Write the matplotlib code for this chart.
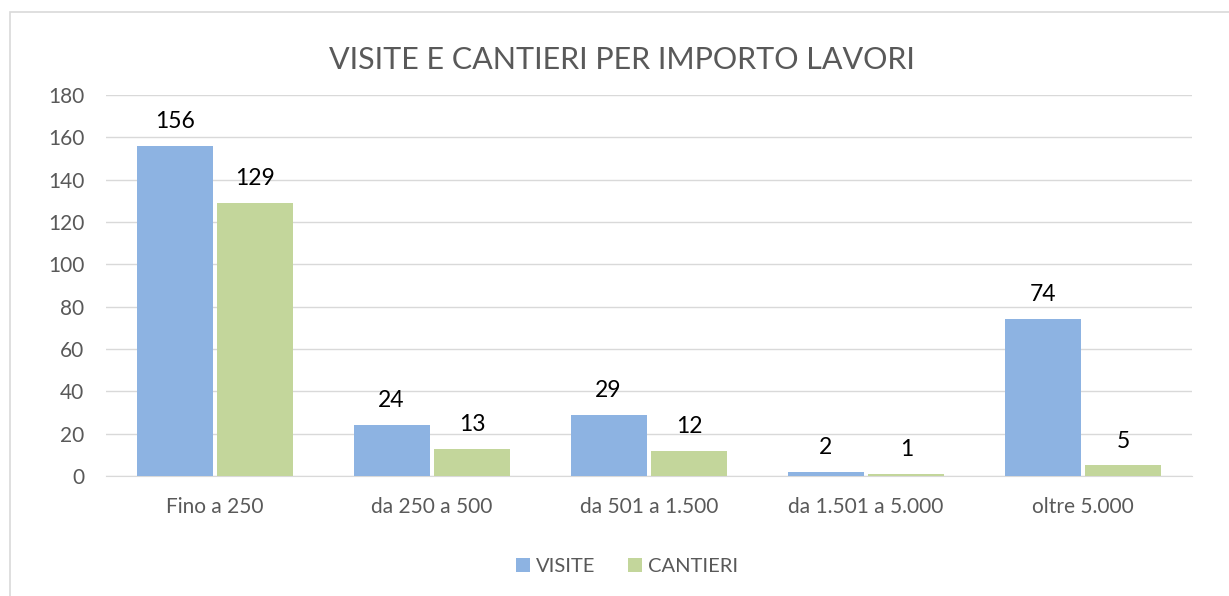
import numpy as np
import matplotlib.pyplot as plt
from matplotlib.patches import Rectangle

# --- dati del grafico ---
categorie = ["Fino a 250", "da 250 a 500", "da 501 a 1.500", "da 1.501 a 5.000", "oltre 5.000"]
visite = [156, 24, 29, 2, 74]
cantieri = [129, 13, 12, 1, 5]

plt.rcParams['font.family'] = ['Lato', 'DejaVu Sans']

fig = plt.figure(figsize=(12.29, 5.96), dpi=100)
ax = fig.add_axes([0.0866, 0.2013, 0.8829, 0.6393])

# cornice grigia attorno al grafico
fig.patches.append(Rectangle((0.008, -0.05), 1.2, 1.03, transform=fig.transFigure,
                             fill=False, edgecolor="#d9d9d9", linewidth=1.2))

x = np.arange(len(categorie))
w = 0.35
off = 0.186

b1 = ax.bar(x - off, visite, w, color="#8db3e2", label="VISITE", zorder=3)
b2 = ax.bar(x + off, cantieri, w, color="#c3d69b", label="CANTIERI", zorder=3)

for bars in (b1, b2):
    for b in bars:
        ax.annotate(f"{int(b.get_height())}", (b.get_x() + b.get_width() / 2, b.get_height()),
                    xytext=(0, 10), textcoords="offset points", ha="center", va="bottom",
                    fontsize=16.5, color="#000000")

ax.set_xlim(-0.5, len(categorie) - 0.5)
ax.set_ylim(0, 180)
ax.set_yticks(range(0, 181, 20))
ax.set_xticks(x)
ax.set_xticklabels(categorie)
ax.yaxis.grid(True, color="#d9d9d9", linewidth=1, zorder=0)
for s in ["top", "right", "left"]:
    ax.spines[s].set_visible(False)
ax.spines["bottom"].set_color("#d9d9d9")
ax.tick_params(axis="both", length=0, labelsize=15, colors="#595959")
ax.tick_params(axis="x", pad=15)
ax.tick_params(axis="y", pad=16)

fig.text(0.506, 0.899, "VISITE E CANTIERI PER IMPORTO LAVORI", ha="center", va="center",
         fontsize=22, color="#595959")

fig.legend(loc="center", bbox_to_anchor=(0.51, 0.05), ncol=2, frameon=False,
           fontsize=14.5, handlelength=0.7, handleheight=0.7, handletextpad=0.3,
           columnspacing=1.6, labelcolor="#595959")

fig.savefig("out.png", dpi=100, facecolor="white")
